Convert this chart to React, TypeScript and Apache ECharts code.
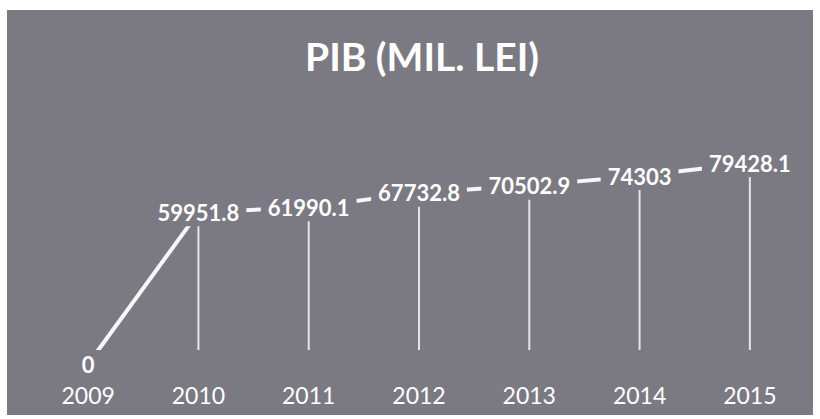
import React, { useEffect, useRef } from "react";
import * as echarts from "echarts";

const years = ["2009", "2010", "2011", "2012", "2013", "2014", "2015"];
const pib = [0, 59951.8, 61990.1, 67732.8, 70502.9, 74303, 79428.1];
const titleText = "PIB (MIL. LEI)";

const BG = "#7b7a83";

export default function App() {
  const ref = useRef<HTMLDivElement>(null);
  useEffect(() => {
    if (!ref.current) return;
    const chart = echarts.init(ref.current, null, { renderer: "svg" });
    chart.setOption({
      animation: false,
      backgroundColor: "#ffffff",
      graphic: [
        {
          type: "rect",
          z: -10,
          shape: { x: 7, y: 10, width: 806, height: 405 },
          style: { fill: BG },
        },
      ],
      title: {
        text: titleText,
        left: 300,
        top: 31,
        textStyle: {
          color: "#ffffff",
          fontFamily: "Lato",
          fontWeight: "bold",
          fontSize: 39,
        },
      },
      grid: { left: 33, right: 15, top: 111, bottom: 55 },
      xAxis: {
        type: "category",
        data: years,
        boundaryGap: true,
        axisLine: { show: false },
        axisTick: { show: false },
        axisLabel: {
          color: "#ffffff",
          fontFamily: "Lato",
          fontSize: 23,
          margin: 19,
        },
      },
      yAxis: {
        type: "value",
        min: 0,
        max: 100000,
        show: false,
        splitLine: { show: false },
      },
      series: [
        {
          type: "custom",
          z: 1,
          data: pib.map((v, i) => [i, v]),
          renderItem: (params: any, api: any) => {
            const v = api.value(1);
            if (!v) return null;
            const top = api.coord([api.value(0), v]);
            const bottom = api.coord([api.value(0), 0]);
            return {
              type: "line",
              shape: { x1: top[0], y1: top[1], x2: bottom[0], y2: bottom[1] - 14 },
              style: { stroke: "#e4e4ea", lineWidth: 2 },
            };
          },
        },
        {
          type: "line",
          z: 2,
          data: pib,
          symbol: "none",
          lineStyle: { color: "#f6f6f6", width: 4 },
        },
        {
          type: "scatter",
          z: 3,
          data: pib,
          symbolSize: 0,
          itemStyle: { color: "rgba(0,0,0,0)" },
          label: {
            show: true,
            position: "inside",
            color: "#ffffff",
            opacity: 1,
            textBorderWidth: 0,
            textBorderColor: "transparent",
            fontFamily: "Lato",
            fontWeight: "bold",
            fontSize: 22,
            backgroundColor: BG,
            padding: [3, 7],
            formatter: (p: any) => String(p.value),
          },
        },
      ],
    });
    return () => chart.dispose();
  }, []);
  return (
    <div
      ref={ref}
      style={{ position: "fixed", left: 0, top: 0, width: 820, height: 419 }}
    />
  );
}
